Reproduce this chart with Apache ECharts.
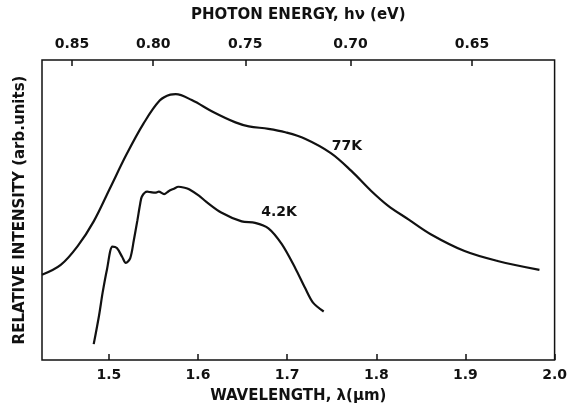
<!DOCTYPE html>
<html>
<head>
<meta charset="utf-8">
<script src="https://cdn.jsdelivr.net/npm/echarts@6/dist/echarts.min.js"></script>
<style>
html,body{margin:0;padding:0;background:#fff;}
#chart{width:570px;height:409px;}
</style>
</head>
<body>
<div id="chart"></div>
<script>
// photon energy (eV) = HC / wavelength (um)
const HC = 1.2398;

// 77 K spectrum: wavelength (um) and relative intensity (arb. units)
const wl77  = [1.425, 1.446, 1.465, 1.483, 1.501, 1.520, 1.539, 1.557, 1.569, 1.575, 1.593, 1.617, 1.642, 1.657, 1.679, 1.698, 1.720, 1.749, 1.772, 1.794, 1.813, 1.836, 1.861, 1.899, 1.936, 1.983];
const int77 = [86, 96, 115, 140, 173, 208, 239, 262, 268, 268.5, 262.5, 250.5, 240, 236, 233.5, 230, 223.5, 209, 191, 171, 156, 142, 127, 110, 100, 91];

// 4.2 K spectrum
const wl42  = [1.483, 1.489, 1.493, 1.498, 1.504, 1.509, 1.515, 1.519, 1.524, 1.528, 1.532, 1.535, 1.537, 1.543, 1.547, 1.552, 1.556, 1.562, 1.567, 1.573, 1.578, 1.585, 1.590, 1.601, 1.609, 1.626, 1.649, 1.664, 1.679, 1.694, 1.709, 1.720, 1.729, 1.741];
const int42 = [16, 45, 68, 92, 114.5, 113, 104, 98, 103, 121, 141, 157, 165, 170, 169.5, 169, 170, 167.5, 170.5, 173, 175, 174, 172.5, 166, 160, 149, 140, 138.5, 133, 117, 93, 73, 58, 49];

// axis ticks
const wavelengthTicks = [1.5, 1.6, 1.7, 1.8, 1.9, 2.0];
const energyTicks = [0.85, 0.80, 0.75, 0.70, 0.65];

// curve labels
const curveNames = ['77K', '4.2K'];
const labelWl = [1.767, 1.691];
const labelInt = [216, 149];

const zip = (a, b) => a.map((v, i) => [v, b[i]]);
const energyPos = energyTicks.map(e => HC / e);
const FONT = 'DejaVu Sans';
const INK = '#111';

const chart = echarts.init(document.getElementById('chart'), null, {renderer: 'canvas'});
chart.setOption({
  animation: false,
  backgroundColor: '#fff',
  grid: {left: 42, right: 13, top: 60, bottom: 46, show: true, borderColor: INK, borderWidth: 1.5, backgroundColor: 'transparent'},
  xAxis: [
    {
      type: 'value', position: 'bottom', min: 1.425, max: 2.0,
      name: 'WAVELENGTH, λ(μm)', nameLocation: 'middle', nameGap: 29,
      nameTextStyle: {fontFamily: FONT, fontSize: 15, fontWeight: 'bold', color: INK},
      axisLine: {show: false},
      axisTick: {show: true, inside: true, length: 6, customValues: wavelengthTicks, lineStyle: {color: INK, width: 1.5}},
      axisLabel: {show: true, customValues: wavelengthTicks, formatter: v => v.toFixed(1), margin: 8, fontFamily: FONT, fontSize: 14, fontWeight: 'bold', color: INK},
      splitLine: {show: false}
    },
    {
      type: 'value', position: 'top', min: 1.425, max: 2.0,
      name: 'PHOTON ENERGY, hν (eV)', nameLocation: 'middle', nameGap: 37,
      nameTextStyle: {fontFamily: FONT, fontSize: 15, fontWeight: 'bold', color: INK},
      axisLine: {show: false},
      axisTick: {show: true, inside: true, length: 6, customValues: energyPos, lineStyle: {color: INK, width: 1.5}},
      axisLabel: {show: true, customValues: energyPos, formatter: v => (HC / v).toFixed(2), margin: 9, fontFamily: FONT, fontSize: 14, fontWeight: 'bold', color: INK},
      splitLine: {show: false}
    }
  ],
  yAxis: {
    type: 'value', min: 0, max: 303,
    name: 'RELATIVE INTENSITY (arb.units)', nameLocation: 'middle', nameGap: 14, nameRotate: 90,
    nameTextStyle: {fontFamily: FONT, fontSize: 15, fontWeight: 'bold', color: INK},
    axisLine: {show: false}, axisTick: {show: false}, axisLabel: {show: false}, splitLine: {show: false}
  },
  series: [
    {
      name: curveNames[0], type: 'line', xAxisIndex: 0, data: zip(wl77, int77),
      smooth: 0.35, showSymbol: false, lineStyle: {color: INK, width: 2.2},
      markPoint: {symbol: 'circle', symbolSize: 0, data: [{coord: [labelWl[0], labelInt[0]]}],
        label: {show: true, position: 'inside', formatter: curveNames[0], fontFamily: FONT, fontSize: 14, fontWeight: 'bold', color: INK}}
    },
    {
      name: curveNames[1], type: 'line', xAxisIndex: 0, data: zip(wl42, int42),
      smooth: 0.3, showSymbol: false, lineStyle: {color: INK, width: 2.2},
      markPoint: {symbol: 'circle', symbolSize: 0, data: [{coord: [labelWl[1], labelInt[1]]}],
        label: {show: true, position: 'inside', formatter: curveNames[1], fontFamily: FONT, fontSize: 14, fontWeight: 'bold', color: INK}}
    }
  ]
});
</script>
</body>
</html>
